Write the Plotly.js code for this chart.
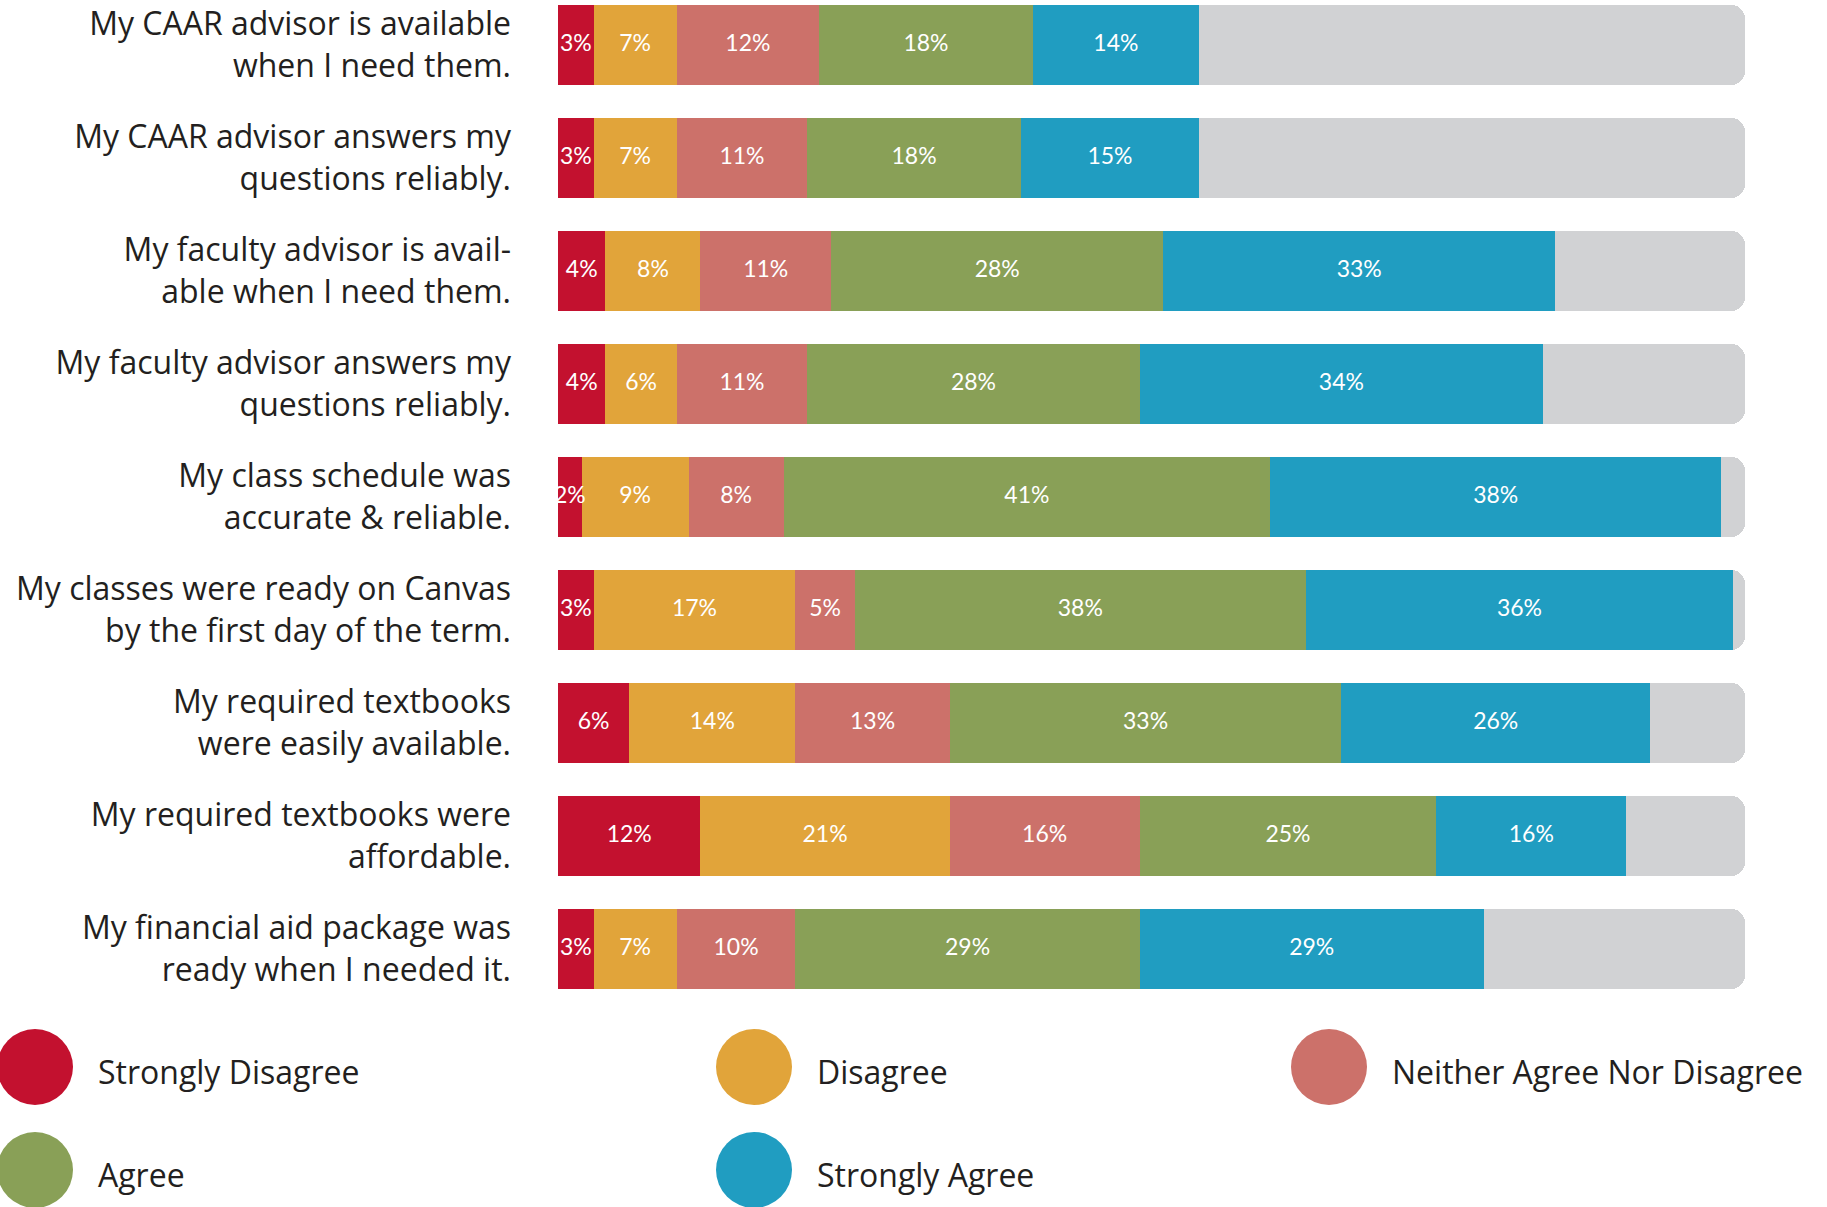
<!DOCTYPE html>
<html>
<head>
<meta charset="utf-8">
<script src="https://cdn.plot.ly/plotly-3.0.1.min.js"></script>
<style>html,body{margin:0;padding:0;background:#fff;}#chart{width:1827px;height:1207px;}</style>
</head>
<body>
<div id="chart"></div>
<script>
// ---- data ----
const statements = [
  "My CAAR advisor is available<br>when I need them.",
  "My CAAR advisor answers my<br>questions reliably.",
  "My faculty advisor is avail-<br>able when I need them.",
  "My faculty advisor answers my<br>questions reliably.",
  "My class schedule was<br>accurate &amp; reliable.",
  "My classes were ready on Canvas<br>by the first day of the term.",
  "My required textbooks<br>were easily available.",
  "My required textbooks were<br>affordable.",
  "My financial aid package was<br>ready when I needed it."
];
const responseLabels = ["Strongly Disagree", "Disagree", "Neither Agree Nor Disagree", "Agree", "Strongly Agree"];
const stronglyDisagree = [3, 3, 4, 4, 2, 3, 6, 12, 3];
const disagree         = [7, 7, 8, 6, 9, 17, 14, 21, 7];
const neither          = [12, 11, 11, 11, 8, 5, 13, 16, 10];
const agree            = [18, 18, 28, 28, 41, 38, 33, 25, 29];
const stronglyAgree    = [14, 15, 33, 34, 38, 36, 26, 16, 29];

// ---- style ----
const colors = ["#c3112f", "#e1a43a", "#cc716a", "#89a057", "#209dc1"];
const trackColor = "#d1d2d4";
const textColor = "#231f20";
const LABEL_FONT = "'Open Sans', Lato, sans-serif";
const VALUE_FONT = "Lato, 'Open Sans', sans-serif";

const seriesValues = [stronglyDisagree, disagree, neither, agree, stronglyAgree];
const remainder = statements.map((_, i) => 100 - seriesValues.reduce((s, arr) => s + arr[i], 0));

const traces = seriesValues.map((vals, k) => ({
  type: "bar",
  orientation: "h",
  name: responseLabels[k],
  y: statements,
  x: vals,
  marker: { color: colors[k], line: { width: 0 } },
  hoverinfo: "name+x",
  showlegend: false
}));
traces.push({
  type: "bar",
  orientation: "h",
  name: "",
  y: statements,
  x: remainder,
  marker: { color: trackColor, line: { width: 0 }, cornerradius: 14 },
  hoverinfo: "skip",
  showlegend: false
});

// value labels, centred on each segment (drawn above all bars)
const labX = [], labY = [], labT = [];
statements.forEach((s, i) => {
  let start = 0;
  seriesValues.forEach(arr => {
    const v = arr[i];
    labX.push(start + v / 2);
    labY.push(s);
    labT.push(v + "%");
    start += v;
  });
});
traces.push({
  type: "scatter",
  mode: "text",
  x: labX, y: labY, text: labT,
  textposition: "middle center",
  textfont: { color: "#ffffff", size: 23, family: VALUE_FONT },
  cliponaxis: false,
  hoverinfo: "skip",
  showlegend: false
});

// plot geometry (pixels)
const W = 1827, H = 1207;
const mL = 558, mR = 82, mT = 0, mB = 197;
const plotW = W - mL - mR, plotH = H - mT - mB;
const px2paperX = px => (px - mL) / plotW;
const py2paperY = py => (mT + plotH - py) / plotH;

// legend layout (2 rows x 3 columns)
const legendCols = [35, 754, 1329];
const legendRows = [1067, 1170];
const circleD = 76;
const shapes = [], annotations = [];
responseLabels.forEach((lab, k) => {
  const col = k % 3, row = Math.floor(k / 3);
  const cx = legendCols[col], cy = legendRows[row];
  shapes.push({
    type: "circle", xref: "paper", yref: "paper",
    xsizemode: "pixel", ysizemode: "pixel",
    xanchor: px2paperX(cx), yanchor: py2paperY(cy),
    x0: -circleD / 2, x1: circleD / 2, y0: -circleD / 2, y1: circleD / 2,
    fillcolor: colors[k], line: { width: 0 }
  });
  annotations.push({
    xref: "paper", yref: "paper",
    x: px2paperX(cx + 61), y: py2paperY(cy + 4),
    xanchor: "left", yanchor: "middle",
    text: lab, showarrow: false,
    font: { size: 32, color: textColor, family: LABEL_FONT }
  });
});

const layout = {
  width: W, height: H,
  margin: { l: mL, r: mR, t: mT, b: mB, pad: 0 },
  paper_bgcolor: "#ffffff", plot_bgcolor: "#ffffff",
  barmode: "stack",
  bargap: 0.29,
  showlegend: false,
  xaxis: { range: [0, 100], visible: false, fixedrange: true },
  yaxis: {
    type: "category",
    range: [8.54, -0.398],
    showgrid: false, zeroline: false, showline: false,
    ticks: "", ticklabelstandoff: 46,
    tickfont: { size: 32, color: textColor, family: LABEL_FONT },
    fixedrange: true
  },
  shapes: shapes,
  annotations: annotations,
  font: { family: LABEL_FONT, color: textColor }
};

Plotly.newPlot("chart", traces, layout, { displayModeBar: false, staticPlot: true });
</script>
</body>
</html>
